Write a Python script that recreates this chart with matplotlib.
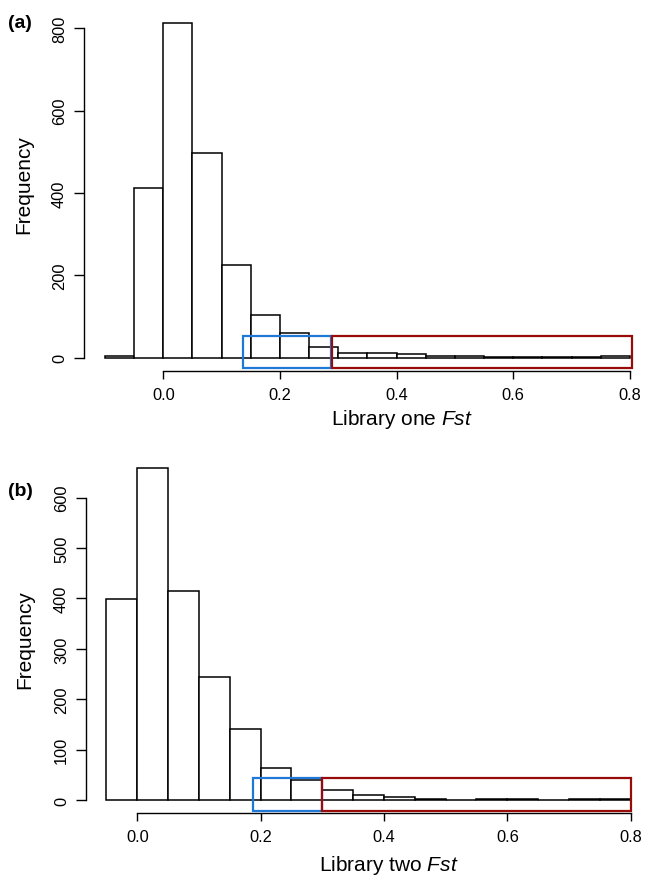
import numpy as np
import matplotlib
matplotlib.use('Agg')
import matplotlib.pyplot as plt
from matplotlib.patches import Rectangle

plt.rcParams['font.family'] = ['Liberation Sans', 'DejaVu Sans']
plt.rcParams['mathtext.fontset'] = 'custom'
plt.rcParams['mathtext.rm'] = 'Liberation Sans'
plt.rcParams['mathtext.it'] = 'Liberation Sans:italic'

# histogram counts, bins of width 0.05
edges_one = np.round(np.arange(-0.10, 0.80001, 0.05), 2)
counts_one = [3, 411, 813, 496, 225, 104, 59, 26, 11, 11, 8, 3, 3, 2, 1, 1, 1, 3]
edges_two = np.round(np.arange(-0.05, 0.80001, 0.05), 2)
counts_two = [398, 659, 414, 245, 140, 64, 40, 19, 10, 5, 2, 0, 1, 1, 0, 1, 1]

# highlight boxes: (x0, x1, y0, y1)
blue_one = (0.137, 0.288, -26, 53)
red_one = (0.290, 0.803, -25, 53)
blue_two = (0.188, 0.299, -21, 43)
red_two = (0.300, 0.800, -21, 43)

W, H = 646, 878
BLUE = '#1f77d6'
RED = '#990b0b'


def fx(px):
    return px / W


def fy(py):
    return 1 - py / H


def panel(ax, edges, counts, xlim, ylim, yticks, boxes):
    ax.bar(edges[:-1], counts, width=0.05, align='edge',
           facecolor='white', edgecolor='black', linewidth=1.1, zorder=2)
    for (x0, x1, y0, y1), c in boxes:
        ax.add_patch(Rectangle((x0, y0), x1 - x0, y1 - y0, fill=False,
                               edgecolor=c, linewidth=1.6, zorder=3))
    ax.set_xlim(*xlim)
    ax.set_ylim(*ylim)
    for s in ['top', 'right']:
        ax.spines[s].set_visible(False)
    ax.spines['left'].set_bounds(yticks[0], yticks[-1])
    ax.spines['bottom'].set_bounds(0, 0.8)
    ax.spines['left'].set_linewidth(1.0)
    ax.spines['bottom'].set_linewidth(1.0)
    ax.set_xticks([0.0, 0.2, 0.4, 0.6, 0.8])
    ax.set_xticklabels(['0.0', '0.2', '0.4', '0.6', '0.8'])
    ax.set_yticks(yticks)
    ax.set_yticklabels([str(v) for v in yticks], rotation=90, va='center')
    ax.tick_params(axis='x', length=5.5, width=1.0, pad=6, labelsize=11.8)
    ax.tick_params(axis='y', length=7.2, width=1.0, pad=5, labelsize=11.8)
    ax.patch.set_visible(False)


fig = plt.figure(figsize=(W / 100, H / 100), dpi=100)

# panel (a): y axis at px 84, x axis at px 371.7
ax1 = fig.add_axes([fx(84), fy(371.7), fx(640) - fx(84), fy(20) - fy(371.7)])
panel(ax1, edges_one, counts_one,
      ((84 - 163.3) / 583.3, (640 - 163.3) / 583.3),
      ((358.7 - 371.7) / 0.4117, (358.7 - 20) / 0.4117),
      [0, 200, 400, 600, 800],
      [(blue_one, BLUE), (red_one, RED)])

# panel (b): y axis at px 86, x axis at px 814
ax2 = fig.add_axes([fx(86), fy(814), fx(640) - fx(86), fy(460) - fy(814)])
panel(ax2, edges_two, counts_two,
      ((86 - 137.3) / 616.7, (640 - 137.3) / 616.7),
      ((801 - 814) / 0.5039, (801 - 460) / 0.5039),
      [0, 100, 200, 300, 400, 500, 600],
      [(blue_two, BLUE), (red_two, RED)])

fig.text(fx(24), fy(185), 'Frequency', rotation=90, ha='center', va='center', fontsize=15)
fig.text(fx(25), fy(640), 'Frequency', rotation=90, ha='center', va='center', fontsize=15)
fig.text(fx(402), fy(420), 'Library one $\\it{Fst}$', ha='center', va='center', fontsize=15)
fig.text(fx(389), fy(866), 'Library two $\\it{Fst}$', ha='center', va='center', fontsize=15)
fig.text(fx(8), fy(24), '(a)', ha='left', va='center', fontsize=14, fontweight='bold')
fig.text(fx(8), fy(492), '(b)', ha='left', va='center', fontsize=14, fontweight='bold')

plt.savefig('out.png', dpi=100)
